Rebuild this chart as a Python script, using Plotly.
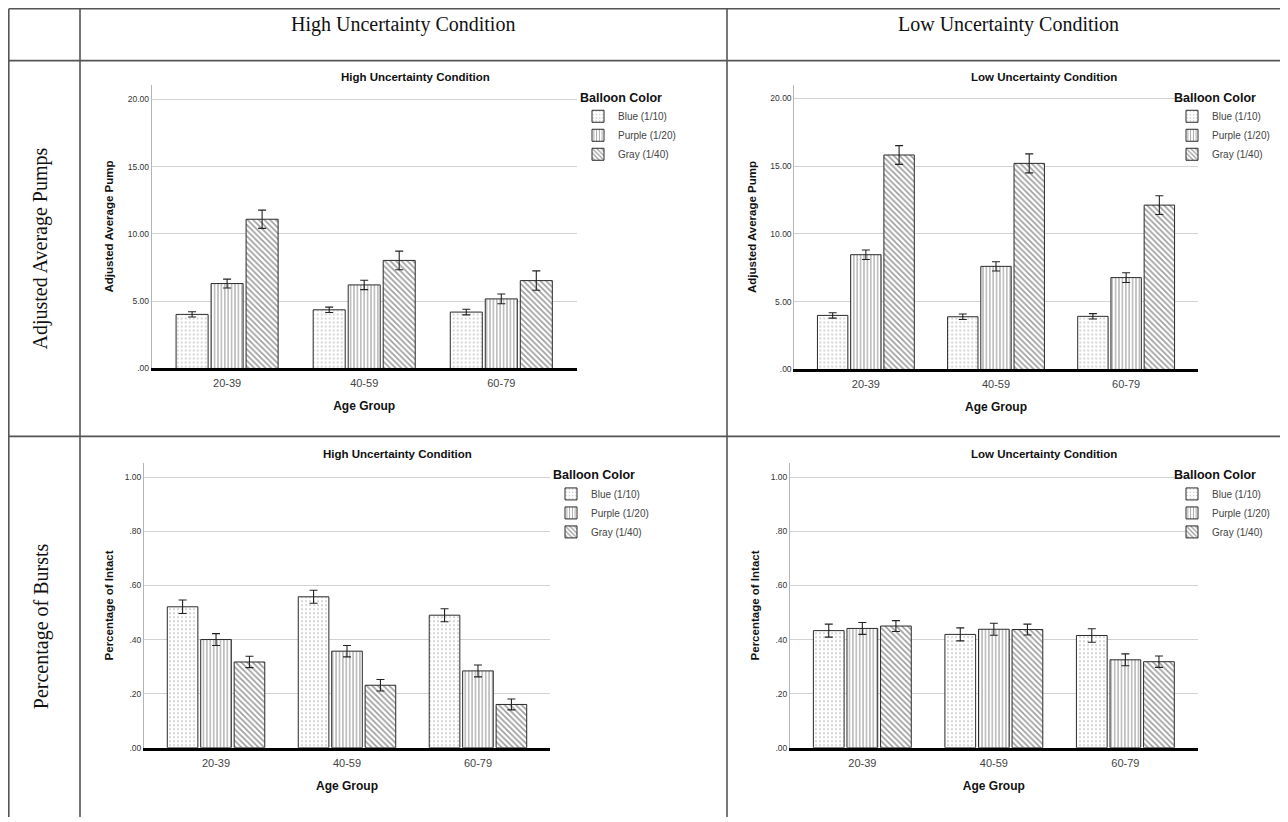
import plotly.graph_objects as go

# ---------------- data ----------------
age_groups = ["20-39", "40-59", "60-79"]
balloon_labels = ["Blue (1/10)", "Purple (1/20)", "Gray (1/40)"]

# Adjusted average pumps - high uncertainty
pump_high_blue = [4.02, 4.36, 4.19]
pump_high_purple = [6.31, 6.21, 5.17]
pump_high_gray = [11.09, 8.03, 6.53]
pump_high_blue_err = [0.20, 0.20, 0.21]
pump_high_purple_err = [0.33, 0.35, 0.36]
pump_high_gray_err = [0.68, 0.69, 0.72]

# Adjusted average pumps - low uncertainty
pump_low_blue = [3.99, 3.89, 3.92]
pump_low_purple = [8.47, 7.61, 6.78]
pump_low_gray = [15.83, 15.21, 12.13]
pump_low_blue_err = [0.20, 0.20, 0.20]
pump_low_purple_err = [0.35, 0.34, 0.36]
pump_low_gray_err = [0.69, 0.70, 0.69]

# Percentage of intact - high uncertainty
intact_high_blue = [0.521, 0.558, 0.490]
intact_high_purple = [0.400, 0.357, 0.284]
intact_high_gray = [0.317, 0.231, 0.160]
intact_high_blue_err = [0.025, 0.024, 0.024]
intact_high_purple_err = [0.022, 0.021, 0.022]
intact_high_gray_err = [0.021, 0.021, 0.020]

# Percentage of intact - low uncertainty
intact_low_blue = [0.433, 0.419, 0.415]
intact_low_purple = [0.441, 0.438, 0.325]
intact_low_gray = [0.450, 0.437, 0.318]
intact_low_blue_err = [0.024, 0.024, 0.025]
intact_low_purple_err = [0.022, 0.022, 0.022]
intact_low_gray_err = [0.020, 0.020, 0.021]

pump_tickvals = [0, 5, 10, 15, 20]
pump_ticktext = [".00", "5.00", "10.00", "15.00", "20.00"]
intact_tickvals = [0, 0.2, 0.4, 0.6, 0.8, 1.0]
intact_ticktext = [".00", ".20", ".40", ".60", ".80", "1.00"]

column_headers = ["High Uncertainty Condition", "Low Uncertainty Condition"]
row_headers = ["Adjusted Average Pumps", "Percentage of Bursts"]
panel_titles = ["High Uncertainty Condition", "Low Uncertainty Condition",
                "High Uncertainty Condition", "Low Uncertainty Condition"]
x_title = "Age Group"
y_titles = ["Adjusted Average Pump", "Percentage of Intact"]
legend_title = "Balloon Color"

# ---------------- styling ----------------
# The page body has an 8px margin, so the figure is placed at (8, 8)
OFF = 8
W, H = 1288 - OFF, 822 - OFF
SANS = "Liberation Sans, Arial, sans-serif"
SERIF = "Liberation Serif, Times New Roman, serif"

patterns = [
    dict(shape=".", fgcolor="#9a9a9a", bgcolor="white", size=4, solidity=0.22),
    dict(shape="|", fgcolor="#4a4a4a", bgcolor="white", size=3.4, solidity=0.35),
    dict(shape="\\", fgcolor="#3a3a3a", bgcolor="white", size=4, solidity=0.4),
]


def px(x):
    return (x - OFF) / W


def py(y):
    return 1 - (y - OFF) / H


# panel geometry in page pixels: (x0, x1, ytop, ybottom, ymax)
panels = [
    (151.7, 576.7, 85.0, 370.7, 21.1),
    (794.3, 1197.7, 85.0, 371.7, 21.03),
    (144.0, 550.0, 466.0, 752.3, 1.052),
    (790.0, 1197.7, 466.0, 752.3, 1.052),
]

panel_data = [
    ([pump_high_blue, pump_high_purple, pump_high_gray],
     [pump_high_blue_err, pump_high_purple_err, pump_high_gray_err]),
    ([pump_low_blue, pump_low_purple, pump_low_gray],
     [pump_low_blue_err, pump_low_purple_err, pump_low_gray_err]),
    ([intact_high_blue, intact_high_purple, intact_high_gray],
     [intact_high_blue_err, intact_high_purple_err, intact_high_gray_err]),
    ([intact_low_blue, intact_low_purple, intact_low_gray],
     [intact_low_blue_err, intact_low_purple_err, intact_low_gray_err]),
]

legend_pos = [(578, 86), (1172, 86), (551, 466), (1172, 466)]
title_pos = [(415, 77), (1044, 77), (397, 457), (1044, 457)]
ytitle_std = [11, 11, 8, 8]

fig = go.Figure()
layout_updates = {}

for i, ((x0, x1, yt, yb, ymax), (vals, errs)) in enumerate(zip(panels, panel_data)):
    n = "" if i == 0 else str(i + 1)
    legend_name = "legend" + n
    for j in range(3):
        fig.add_trace(go.Bar(
            x=age_groups, y=vals[j], name=balloon_labels[j],
            xaxis="x" + n, yaxis="y" + n,
            marker=dict(color="white", pattern=patterns[j],
                        line=dict(color="#2a2a2a", width=1)),
            error_y=dict(type="data", array=errs[j], visible=True,
                         color="#222222", thickness=1.1, width=4),
            legend=legend_name, showlegend=True,
        ))
    is_pump = i < 2
    layout_updates["xaxis" + n] = dict(
        domain=[px(x0), px(x1)], anchor="y" + n,
        type="category", range=[-0.55, 2.55],
        showline=True, linecolor="black", linewidth=2.6,
        showgrid=False, zeroline=False, ticks="",
        ticklabelstandoff=3,
        tickfont=dict(family=SANS, size=11, color="#444444"),
        title=dict(text="<b>" + x_title + "</b>",
                   font=dict(family=SANS, size=12, color="#111111"),
                   standoff=14),
    )
    layout_updates["yaxis" + n] = dict(
        domain=[py(yb), py(yt)], anchor="x" + n,
        range=[0, ymax],
        tickvals=pump_tickvals if is_pump else intact_tickvals,
        ticktext=pump_ticktext if is_pump else intact_ticktext,
        showline=True, linecolor="#b5b5b5", linewidth=1,
        showgrid=True, gridcolor="#d2d2d2", gridwidth=1,
        zeroline=False, ticks="",
        tickfont=dict(family=SANS, size=8.5, color="#333333"),
        title=dict(text="<b>" + (y_titles[0] if is_pump else y_titles[1]) + "</b>",
                   font=dict(family=SANS, size=11.5, color="#111111"),
                   standoff=ytitle_std[i]),
    )
    lx, ly = legend_pos[i]
    layout_updates[legend_name] = dict(
        x=px(lx), y=py(ly), xanchor="left", yanchor="top",
        xref="paper", yref="paper",
        bgcolor="rgba(0,0,0,0)", borderwidth=0,
        itemwidth=30, tracegroupgap=0,
        font=dict(family=SANS, size=10, color="#444444"),
        title=dict(text="<b>" + legend_title + "</b>",
                   font=dict(family=SANS, size=12.5, color="#111111")),
        itemclick=False, itemdoubleclick=False,
    )

annotations = []
for i, (tx, ty) in enumerate(title_pos):
    annotations.append(dict(
        x=px(tx), y=py(ty), xref="paper", yref="paper",
        text="<b>" + panel_titles[i] + "</b>", showarrow=False,
        font=dict(family=SANS, size=11.5, color="#111111"),
        xanchor="center", yanchor="middle"))

for txt, cx in zip(column_headers, [403, 1008]):
    annotations.append(dict(
        x=px(cx), y=py(25), xref="paper", yref="paper", text=txt,
        showarrow=False, font=dict(family=SERIF, size=20, color="#111111"),
        xanchor="center", yanchor="middle"))

for txt, cy in zip(row_headers, [250, 630]):
    annotations.append(dict(
        x=px(41), y=py(cy), xref="paper", yref="paper", text=txt,
        showarrow=False, textangle=-90,
        font=dict(family=SERIF, size=20, color="#111111"),
        xanchor="center", yanchor="middle"))

line_style = dict(color="#555555", width=1.6)
shapes = []
for yy in [8.8, 61, 439]:
    shapes.append(dict(type="line", xref="paper", yref="paper",
                       x0=px(8.8), x1=1.0, y0=py(yy), y1=py(yy), line=line_style))
for xx in [8.8, 80, 727]:
    shapes.append(dict(type="line", xref="paper", yref="paper",
                       x0=px(xx), x1=px(xx), y0=py(8.8), y1=0.0, line=line_style))

fig.update_layout(
    width=W, height=H,
    margin=dict(l=0, r=0, t=0, b=0),
    paper_bgcolor="white", plot_bgcolor="white",
    barmode="group", bargap=0.234, bargroupgap=0.085,
    annotations=annotations, shapes=shapes,
    font=dict(family=SANS),
    **layout_updates,
)

fig.write_html("out.html")
